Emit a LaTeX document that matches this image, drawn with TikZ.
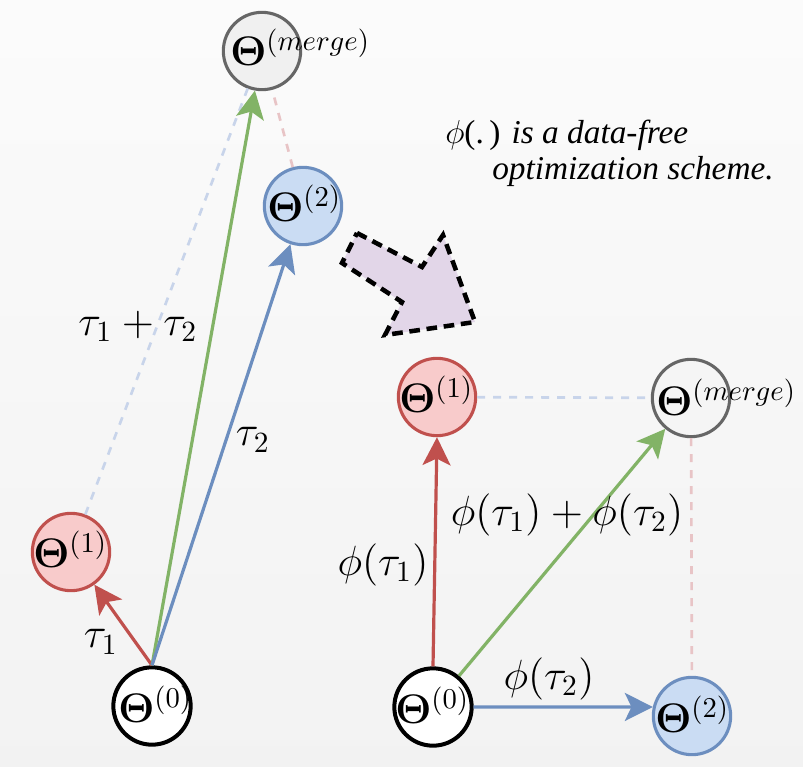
\documentclass[tikz,border=0pt]{standalone}
\usepackage[no-math]{fontspec}
\IfFontExistsTF{Liberation Serif Italic}
  {\newfontfamily\notefont{Liberation Serif}[ItalicFont={Liberation Serif Italic}]}
  {\newfontfamily\notefont{Liberation Serif}[ItalicFont={Liberation Serif},ItalicFeatures={FakeSlant=0.2}]}
\usetikzlibrary{arrows.meta}
\definecolor{redD}{HTML}{C0504D}
\definecolor{redF}{HTML}{F8CBCB}
\definecolor{blueD}{HTML}{6C8EBF}
\definecolor{blueF}{HTML}{CADCF3}
\definecolor{greenD}{HTML}{82B366}
\definecolor{grayD}{HTML}{666666}
\definecolor{grayF}{HTML}{F0F0F0}
\definecolor{dashB}{HTML}{C8D4EA}
\definecolor{dashR}{HTML}{E8C4C6}
\definecolor{purpF}{HTML}{E2D6E8}
\newcommand{\NodeMath}[1]{\scalebox{2.15}{\Large$#1$}}
\newcommand{\LblMath}[1]{\scalebox{2.2}{\Large$#1$}}
\begin{document}
\begin{tikzpicture}[x=0.75pt,y=-0.75pt,
  th/.style={circle,minimum size=58pt,inner sep=0pt,line width=2.3pt},
  thred/.style={th,draw=redD,fill=redF},
  thblue/.style={th,draw=blueD,fill=blueF},
  thgray/.style={th,draw=grayD,fill=grayF},
  thzero/.style={th,draw=black,fill=white,line width=3pt},
  tht/.style={anchor=base west,inner sep=0pt},
  lbl/.style={inner sep=0pt},
  arr/.style={line width=2.4pt,-{Stealth[length=21pt,width=21pt,inset=5pt]}},
  dsh/.style={line width=2pt,dash pattern=on 6pt off 6pt},
  note/.style={anchor=base west,inner sep=0pt,font=\notefont\itshape\fontsize{25}{28}\selectfont},
]
\shade[top color=white!40!gray!5,bottom color=gray!10] (0,0) rectangle (803,767);
\useasboundingbox (0,0) rectangle (803,767);

% ---------- left panel ----------
\node[thgray] (tml) at (262,51) {};
\node[thblue] (t2l) at (303,206) {};
\node[thred] (t1l) at (71,552) {};
\node[thzero] (t0l) at (152,706) {};

\draw[dsh,dashB] (t1l) -- (tml);
\draw[dsh,dashR] (t2l) -- (tml);
\draw[arr,redD] (t0l.north) -- (t1l);
\draw[arr,greenD] (t0l.north) -- (tml);
\draw[arr,blueD] (t0l.north) -- (t2l);

\node[tht] (xml) at (230,65) {\NodeMath{\mathbf{\Theta}^{(merge)}}};
\node[tht] (x2l) at (267,221) {\NodeMath{\mathbf{\Theta}^{(2)}}};
\node[tht] (x1l) at (33,567) {\NodeMath{\mathbf{\Theta}^{(1)}}};
\node[tht] (x0l) at (118,722) {\NodeMath{\mathbf{\Theta}^{(0)}}};

\node[lbl] (l12) at (138,326) {\LblMath{\tau_1+\tau_2}};
\node[lbl] (l2) at (253,440) {\LblMath{\tau_2}};
\node[lbl] (l1) at (101,642) {\LblMath{\tau_1}};

% ---------- big arrow ----------
\draw[line width=3.4pt,dash pattern=on 8pt off 5pt,fill=purpF,line join=miter]
  (357,233) -- (422,267) -- (443,235) -- (475,322) -- (385,335) -- (402,302) -- (342,263) -- cycle;

\node[note] (n1) at (445,143) {$\phi$\upshape(.\,) \itshape is a data-free};
\node[note] (n2) at (492,179) {optimization scheme.};

% ---------- right panel ----------
\node[thred] (t1r) at (437,397) {};
\node[thgray,fill=gray!8] (tmr) at (691,398) {};
\node[thzero] (t0r) at (433,707) {};
\node[thblue] (t2r) at (692,716) {};

\draw[dsh,dashB] (t1r) -- (tmr);
\draw[dsh,dashR] (tmr) -- (t2r);
\draw[arr,redD] (t0r.north) -- (t1r.south);
\draw[arr,greenD] (t0r) -- (tmr);
\draw[arr,blueD] (t0r.east) -- (t2r.167);

\node[tht] (x1r) at (399,412) {\NodeMath{\mathbf{\Theta}^{(1)}}};
\node[tht] (xmr) at (656,415) {\NodeMath{\mathbf{\Theta}^{(merge)}}};
\node[tht] (x0r) at (395,723) {\NodeMath{\mathbf{\Theta}^{(0)}}};
\node[tht] (x2r) at (655,732) {\NodeMath{\mathbf{\Theta}^{(2)}}};

\node[lbl] (r1) at (383,565) {\LblMath{\phi(\tau_1)}};
\node[lbl] (r12) at (567,515) {\LblMath{\phi(\tau_1)+\phi(\tau_2)}};
\node[lbl] (r2) at (549,679) {\LblMath{\phi(\tau_2)}};
\end{tikzpicture}
\end{document}
